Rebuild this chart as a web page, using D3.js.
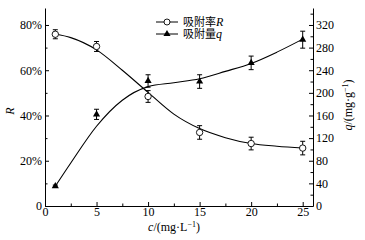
<!DOCTYPE html>
<html lang="zh">
<head>
<meta charset="UTF-8">
<title>吸附率与吸附量</title>
<script src="https://cdn.jsdelivr.net/npm/d3@7/dist/d3.min.js"></script>
<style>
  body { margin: 0; background: #fff; }
  .axis path, .axis line { stroke: #000; stroke-width: 1; }
  .axis text { fill: #000; }
</style>
</head>
<body>
<div id="chart"></div>
<script>
// measured points
const conc = [1, 5, 10, 15, 20, 25];
const rateR = [75.9, 70.5, 48.4, 32.5, 27.6, 25.6];      // %
const rateErr = [2, 2.2, 2.6, 3, 2.8, 3];
const amountQ = [35, 162, 221, 220, 253, 294];           // mg/g
const amountErr = [2, 9, 11, 12, 12, 15];

// fitted curves
const fitC = [1, 2.5, 5, 7.5, 10, 12.5, 15, 17.5, 20, 22.5, 25];
const fitR = [76, 74.4, 69, 60, 50.2, 40.6, 34.2, 30.2, 27.6, 26.4, 25.6];
const fitQ = [35, 76, 141, 187, 211, 218, 225, 238, 252, 272, 295];

const xTicks = [0, 5, 10, 15, 20, 25];
const rTicks = [0, 20, 40, 60, 80];
const qTicks = [0, 40, 80, 120, 160, 200, 240, 280, 320];

const SERIF = "'Liberation Serif', 'Times New Roman', 'DejaVu Serif', serif";
const CJK = "'Noto Sans CJK SC', sans-serif";

const W = 365, H = 240;
const m = { left: 45, right: 52, top: 8, bottom: 34 };

const svg = d3.select("#chart").append("svg")
  .attr("width", W).attr("height", H)
  .attr("font-family", SERIF);

const x = d3.scaleLinear().domain([0, 26]).range([m.left, W - m.right]);
const yR = d3.scaleLinear().domain([0, 87.5]).range([H - m.bottom, m.top]);
const yQ = d3.scaleLinear().domain([0, 350]).range([H - m.bottom, m.top]);

function styleAxis(g) {
  g.attr("font-family", null).attr("font-size", null);
  g.selectAll("text").attr("font-family", SERIF).attr("font-size", 12);
}

// axes
svg.append("g").attr("class", "axis")
  .attr("transform", `translate(0,${H - m.bottom})`)
  .call(d3.axisBottom(x).tickValues(xTicks).tickSize(-4).tickSizeOuter(0).tickPadding(1))
  .call(styleAxis);
svg.append("g").attr("class", "axis")
  .attr("transform", `translate(0,${H - m.bottom})`)
  .call(d3.axisBottom(x).tickValues(d3.range(2.5, 26, 5)).tickSize(-2.5).tickFormat("").tickSizeOuter(0))
  .select(".domain").remove();

svg.append("g").attr("class", "axis")
  .attr("transform", `translate(${m.left},0)`)
  .call(d3.axisLeft(yR).tickValues(rTicks).tickSize(-4).tickSizeOuter(0).tickPadding(3)
    .tickFormat(d => d === 0 ? "0" : d + "%"))
  .call(styleAxis);
svg.append("g").attr("class", "axis")
  .attr("transform", `translate(${m.left},0)`)
  .call(d3.axisLeft(yR).tickValues(d3.range(10, 87, 20)).tickSize(-2.5).tickFormat("").tickSizeOuter(0))
  .select(".domain").remove();

svg.append("g").attr("class", "axis")
  .attr("transform", `translate(${W - m.right},0)`)
  .call(d3.axisRight(yQ).tickValues(qTicks).tickSize(-4).tickSizeOuter(0).tickPadding(3))
  .call(styleAxis);
svg.append("g").attr("class", "axis")
  .attr("transform", `translate(${W - m.right},0)`)
  .call(d3.axisRight(yQ).tickValues(d3.range(20, 350, 40)).tickSize(-2.5).tickFormat("").tickSizeOuter(0))
  .select(".domain").remove();

// axis titles
svg.append("text")
  .attr("transform", `translate(14,${(m.top + H - m.bottom) / 2 + 4}) rotate(-90)`)
  .attr("text-anchor", "middle").attr("font-size", 12).attr("font-style", "italic")
  .text("R");

svg.append("text")
  .attr("transform", `translate(352,${(m.top + H - m.bottom) / 2 - 2}) rotate(-90)`)
  .attr("text-anchor", "middle").attr("font-size", 12)
  .html('<tspan font-style="italic">q</tspan>/(mg·g<tspan font-size="8" dy="-4">−1</tspan><tspan dy="4">)</tspan>');

svg.append("text")
  .attr("x", 174).attr("y", 231)
  .attr("text-anchor", "middle").attr("font-size", 12)
  .html('<tspan font-style="italic">c</tspan>/(mg·L<tspan font-size="8" dy="-4">−1</tspan><tspan dy="4">)</tspan>');

// fitted curves
const lineR = d3.line().x((d, i) => x(fitC[i])).y(d => yR(d)).curve(d3.curveMonotoneX);
const lineQ = d3.line().x((d, i) => x(fitC[i])).y(d => yQ(d)).curve(d3.curveMonotoneX);
svg.append("path").attr("d", lineR(fitR)).attr("fill", "none").attr("stroke", "#000").attr("stroke-width", 1.1);
svg.append("path").attr("d", lineQ(fitQ)).attr("fill", "none").attr("stroke", "#000").attr("stroke-width", 1.1);

// error bars
function errBars(vals, errs, y) {
  const g = svg.append("g").attr("stroke", "#000").attr("stroke-width", 1);
  vals.forEach((v, i) => {
    const cx = x(conc[i]);
    g.append("line").attr("x1", cx).attr("x2", cx).attr("y1", y(v - errs[i])).attr("y2", y(v + errs[i]));
    g.append("line").attr("x1", cx - 2.5).attr("x2", cx + 2.5).attr("y1", y(v - errs[i])).attr("y2", y(v - errs[i]));
    g.append("line").attr("x1", cx - 2.5).attr("x2", cx + 2.5).attr("y1", y(v + errs[i])).attr("y2", y(v + errs[i]));
  });
}
errBars(rateR, rateErr, yR);
errBars(amountQ, amountErr, yQ);

// markers
svg.selectAll(".mR").data(rateR).join("circle")
  .attr("cx", (d, i) => x(conc[i])).attr("cy", d => yR(d)).attr("r", 3.2)
  .attr("fill", "#fff").attr("stroke", "#000").attr("stroke-width", 0.9);
const tri = d3.symbol().type(d3.symbolTriangle).size(22);
svg.selectAll(".mQ").data(amountQ).join("path")
  .attr("d", tri).attr("transform", (d, i) => `translate(${x(conc[i])},${yQ(d)})`)
  .attr("fill", "#000");

// legend
const lg = svg.append("g");
const rows = [{ label: "吸附率", sym: "R", type: "c", y: 22 }, { label: "吸附量", sym: "q", type: "t", y: 34 }];
rows.forEach(r => {
  lg.append("line").attr("x1", 156).attr("x2", 178).attr("y1", r.y).attr("y2", r.y)
    .attr("stroke", "#000").attr("stroke-width", 1);
  if (r.type === "c") {
    lg.append("circle").attr("cx", 167).attr("cy", r.y).attr("r", 3)
      .attr("fill", "#fff").attr("stroke", "#000").attr("stroke-width", 0.9);
  } else {
    lg.append("path").attr("d", tri).attr("transform", `translate(167,${r.y})`).attr("fill", "#000");
  }
  lg.append("text").attr("x", 183).attr("y", r.y + 4).attr("font-size", 11)
    .attr("font-family", CJK).text(r.label);
  lg.append("text").attr("x", 216).attr("y", r.y + 4).attr("font-size", 12)
    .attr("font-style", "italic").text(r.sym);
});
</script>
</body>
</html>
